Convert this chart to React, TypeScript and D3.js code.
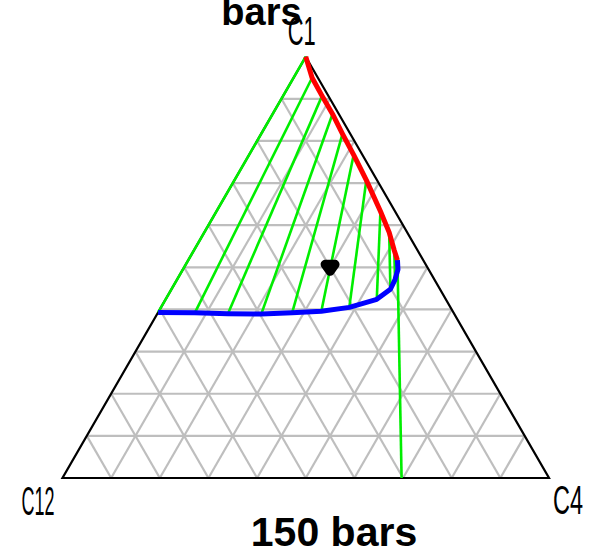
import React from "react";
import * as d3 from "d3";

// Ternary phase diagram of the C1 / C4 / C12 system at 150 bars.
// Compositions are mole fractions: [C1, C4]; C12 = 1 - C1 - C4.

const C1_DEW = [1.0, 0.95, 0.907, 0.864, 0.817, 0.767, 0.707, 0.633, 0.583, 0.54, 0.517];
const C4_DEW = [0.0, 0.038, 0.08, 0.123, 0.167, 0.215, 0.271, 0.337, 0.38, 0.412, 0.43];

const C1_BUBBLE = [0.393, 0.392, 0.39, 0.389, 0.392, 0.396, 0.405, 0.424, 0.448, 0.471, 0.495, 0.517];
const C4_BUBBLE = [0.0, 0.076, 0.145, 0.214, 0.276, 0.334, 0.387, 0.434, 0.45, 0.448, 0.442, 0.43];

// tie lines join dew point i with bubble point i
const TIE_COUNT = 10;
// extra line from the last dew point down to the C12-C4 side
const EXTRA_TIE_END = { c1: 0.0, c4: 0.697 };

const FEED = { c1: 0.5, c4: 0.3 };

const GRID_TICKS = [0.1, 0.2, 0.3, 0.4, 0.5, 0.6, 0.7, 0.8, 0.9];

const VERTEX_LABELS = [
  { name: "C1", c1: 1, c4: 0 },
  { name: "C12", c1: 0, c4: 0 },
  { name: "C4", c1: 0, c4: 1 },
];

const TITLE_TOP = "bars";
const TITLE_BOTTOM = "150 bars";

const W = 590;
const H = 553;
const S3 = Math.sqrt(3) / 2;

const BASE_LEFT = 62.5;
const BASE_RIGHT = 549;
const BASE_Y = 478;
const SIDE = BASE_RIGHT - BASE_LEFT;

const xs = d3.scaleLinear().domain([0, 1]).range([BASE_LEFT, BASE_RIGHT]);
const ys = d3.scaleLinear().domain([0, S3]).range([BASE_Y, BASE_Y - SIDE * S3]);

function proj(c1: number, c4: number): [number, number] {
  const u = c4 + c1 / 2;
  const v = c1 * S3;
  return [xs(u), ys(v)];
}

const line = d3.line<[number, number]>();

export default function App() {
  const dew = C1_DEW.map((c, i) => proj(c, C4_DEW[i]));
  const bubble = C1_BUBBLE.map((c, i) => proj(c, C4_BUBBLE[i]));

  // grid lines: constant C1, constant C4, constant C12
  const grid: [number, number][][] = [];
  GRID_TICKS.forEach((t) => {
    grid.push([proj(t, 0), proj(t, 1 - t)]); // C1 = t
    grid.push([proj(0, t), proj(1 - t, t)]); // C4 = t
    grid.push([proj(0, 1 - t), proj(1 - t, 0)]); // C12 = t
  });

  const tri: [number, number][] = [proj(1, 0), proj(0, 0), proj(0, 1), proj(1, 0)];

  const ties: [number, number][][] = [];
  for (let i = 0; i < TIE_COUNT; i++) ties.push([dew[i], bubble[i]]);
  ties.push([dew[dew.length - 1], proj(EXTRA_TIE_END.c1, EXTRA_TIE_END.c4)]);

  const [fx, fy] = proj(FEED.c1, FEED.c4);
  const marker = `M${fx - 5},${fy - 3}L${fx + 5},${fy - 3}L${fx},${fy + 4}Z`;

  const labelPos: Record<string, { x: number; y: number; len: number }> = {
    C1: { x: proj(1, 0)[0] - 4, y: 45, len: 28 },
    C12: { x: 38, y: 515, len: 33 },
    C4: { x: 568, y: 514, len: 30 },
  };

  return (
    <svg
      width={W}
      height={H}
      style={{ position: "absolute", left: 0, top: 0, background: "#fff" }}
    >
      <g stroke="#bebebe" strokeWidth={2.2} fill="none">
        {grid.map((g, i) => (
          <path key={i} d={line(g) || ""} />
        ))}
      </g>
      <path d={line(tri) || ""} fill="none" stroke="#000" strokeWidth={2.2} strokeLinejoin="miter" />
      <g stroke="#00ee00" strokeWidth={2.6} fill="none">
        {ties.map((t, i) => (
          <path key={i} d={line(t) || ""} />
        ))}
      </g>
      <path d={line(dew) || ""} fill="none" stroke="#ff0000" strokeWidth={5} strokeLinejoin="round" />
      <path d={line(bubble) || ""} fill="none" stroke="#0000ff" strokeWidth={5} strokeLinejoin="round" />
      <path d={marker} fill="#000" stroke="#000" strokeWidth={9} strokeLinejoin="round" />

      {VERTEX_LABELS.map((l) => {
        const p = labelPos[l.name];
        return (
          <text
            key={l.name}
            x={p.x}
            y={p.y}
            textAnchor="middle"
            fontFamily="Liberation Sans, Arial, sans-serif"
            fontSize={41}
            textLength={p.len}
            lengthAdjust="spacingAndGlyphs"
            fill="#000"
          >
            {l.name}
          </text>
        );
      })}

      <text
        x={261.5}
        y={25}
        textAnchor="middle"
        fontFamily="Liberation Sans, Arial, sans-serif"
        fontWeight="bold"
        fontSize={38}
        fill="#000"
      >
        {TITLE_TOP}
      </text>
      <text
        x={334}
        y={546}
        textAnchor="middle"
        fontFamily="Liberation Sans, Arial, sans-serif"
        fontWeight="bold"
        fontSize={41}
        fill="#000"
      >
        {TITLE_BOTTOM}
      </text>
    </svg>
  );
}
